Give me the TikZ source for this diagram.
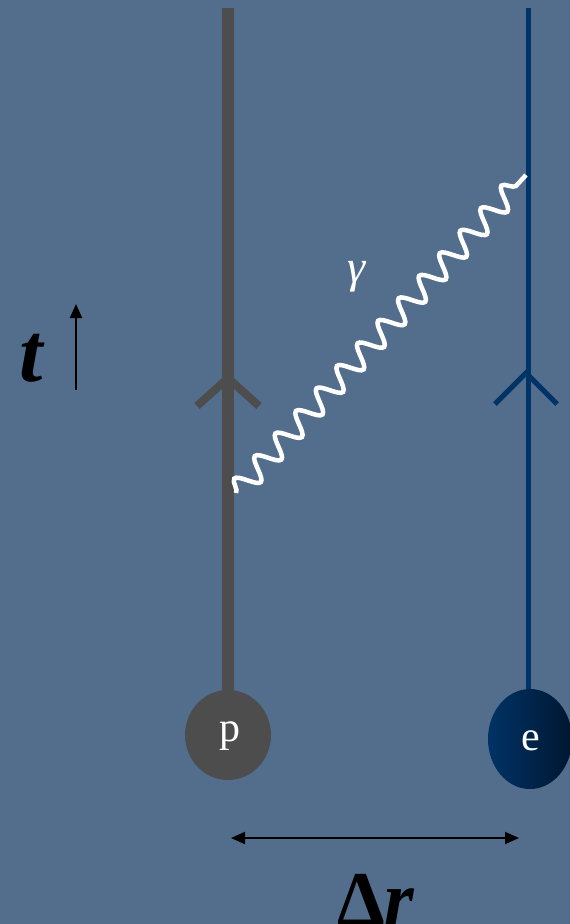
\documentclass[tikz,border=0pt]{standalone}
\usepackage{fontspec}
\setmainfont{Liberation Serif}
\usetikzlibrary{decorations.pathmorphing,arrows.meta,shapes.geometric}
\definecolor{bg}{RGB}{82,110,140}
\definecolor{pgray}{RGB}{77,77,77}
\definecolor{eblue}{RGB}{0,51,102}
\definecolor{edark}{RGB}{0,22,48}
\tikzset{
  pline/.style={pgray,line width=12pt},
  eline/.style={eblue,line width=5pt},
  pchev/.style={pgray,line width=8pt},
  echev/.style={eblue,line width=5pt},
  photon/.style={white,line width=4.5pt,decorate,decoration={snake,segment length=30.5pt,amplitude=11pt}},
  lbl/.style={text=white,inner sep=0pt},
  arr/.style={black,line width=2pt,-{Triangle[length=14pt,width=12pt]}},
}
\begin{document}
\begin{tikzpicture}[x=1pt,y=-1pt]
\fill[bg] (0,0) rectangle (570,924);
\useasboundingbox (0,0) rectangle (570,924);
% world lines
\coordinate (ptop) at (228,8);
\coordinate (pbot) at (228,700);
\coordinate (etop) at (528,8);
\coordinate (ebot) at (528,700);
\draw[pline] (ptop) -- (pbot);
\draw[eline] (etop) -- (ebot);
% chevrons
\coordinate (pc) at (228,378);
\coordinate (pl) at (197,406);
\coordinate (pr) at (259,406);
\draw[pchev] (pl) -- (pc) -- (pr);
\coordinate (ec) at (526,373);
\coordinate (el) at (495,404);
\coordinate (er) at (557,404);
\draw[echev] (el) -- (ec) -- (er);
% particles
\node[ellipse,fill=pgray,minimum width=86pt,minimum height=90pt,inner sep=0pt] (p) at (228,735) {};
\node[lbl,font=\fontsize{42}{42}\selectfont] at (230,736) {p};
\shade[left color=eblue,right color=edark,shading angle=90] (530,739) ellipse [x radius=42, y radius=50];
\coordinate (e) at (530,739);
\node[lbl,font=\fontsize{42}{42}\selectfont] at (531,741) {e};
% photon
\coordinate (g1) at (236,493);
\coordinate (g2) at (526,175);
\draw[photon] (g1) -- (g2);
\node[lbl,font=\fontsize{46}{46}\itshape\selectfont] (gam) at (357,277) {γ};
% time axis
\node[inner sep=0pt,font=\fontsize{84}{84}\bfseries\itshape\selectfont] (t) at (31,358) {t};
\coordinate (ta) at (76,390);
\coordinate (tb) at (76,304);
\draw[arr] (ta) -- (tb);
% distance
\coordinate (da) at (231,838);
\coordinate (db) at (519,838);
\draw[black,line width=2pt,{Triangle[length=14pt,width=12pt]}-{Triangle[length=14pt,width=12pt]}] (da) -- (db);
\node[inner sep=0pt,font=\fontsize{76}{76}\bfseries\selectfont] (dr) at (376,899) {Δ\textit{r}};
\end{tikzpicture}
\end{document}
